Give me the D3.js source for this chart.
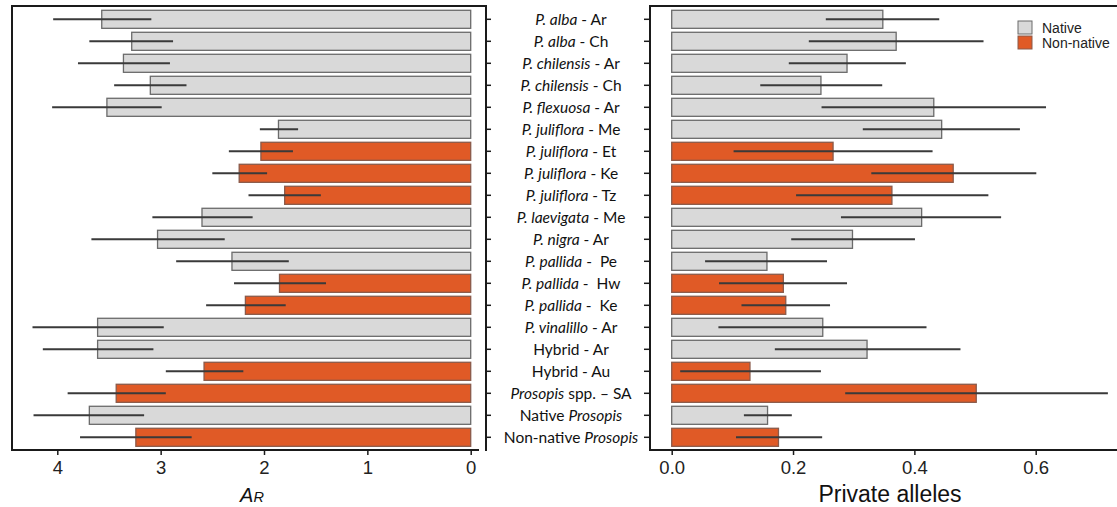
<!DOCTYPE html>
<html>
<head>
<meta charset="utf-8">
<script src="https://cdn.jsdelivr.net/npm/d3@7"></script>
<style>
body { margin: 0; background: #fff; }
svg { display: block; }
.tick text { font-family: "Liberation Sans", Arial, sans-serif; }
</style>
</head>
<body>
<svg class="chart" width="1117" height="507"></svg>
<script>
"use strict";
// row labels, each as [text, italic] pieces
var labels = [
	[["P. alba", 1], [" - Ar", 0]],
	[["P. alba", 1], [" - Ch", 0]],
	[["P. chilensis", 1], [" - Ar", 0]],
	[["P. chilensis", 1], [" - Ch", 0]],
	[["P. flexuosa", 1], [" - Ar", 0]],
	[["P. juliflora", 1], [" - Me", 0]],
	[["P. juliflora", 1], [" - Et", 0]],
	[["P. juliflora", 1], [" - Ke", 0]],
	[["P. juliflora", 1], [" - Tz", 0]],
	[["P. laevigata", 1], [" - Me", 0]],
	[["P. nigra", 1], [" - Ar", 0]],
	[["P. pallida", 1], [" -  Pe", 0]],
	[["P. pallida", 1], [" -  Hw", 0]],
	[["P. pallida", 1], [" -  Ke", 0]],
	[["P. vinalillo", 1], [" - Ar", 0]],
	[["Hybrid - Ar", 0]],
	[["Hybrid - Au", 0]],
	[["Prosopis", 1], [" spp. \u2013 SA", 0]],
	[["Native ", 0], ["Prosopis", 1]],
	[["Non-native ", 0], ["Prosopis", 1]]
];
var origin = ["Native","Native","Native","Native","Native","Native","Non-native","Non-native","Non-native","Native",
	"Native","Native","Non-native","Non-native","Native","Native","Non-native","Non-native","Native","Non-native"];

// allelic richness (A_R) with error range
var arMean = [3.57, 3.28, 3.36, 3.10, 3.52, 1.86, 2.03, 2.24, 1.80, 2.60, 3.03, 2.31, 1.85, 2.18, 3.61, 3.61, 2.58, 3.43, 3.69, 3.24];
var arLow  = [3.09, 2.88, 2.91, 2.75, 2.99, 1.67, 1.72, 1.97, 1.45, 2.11, 2.38, 1.76, 1.40, 1.79, 2.97, 3.07, 2.20, 2.95, 3.16, 2.70];
var arHigh = [4.04, 3.69, 3.80, 3.45, 4.05, 2.04, 2.34, 2.50, 2.15, 3.08, 3.67, 2.85, 2.29, 2.56, 4.24, 4.14, 2.95, 3.90, 4.23, 3.78];

// private alleles with error range
var paMean = [0.348, 0.370, 0.289, 0.246, 0.432, 0.445, 0.266, 0.464, 0.363, 0.412, 0.298, 0.157, 0.184, 0.188, 0.249, 0.322, 0.129, 0.502, 0.158, 0.176];
var paLow  = [0.254, 0.226, 0.193, 0.146, 0.247, 0.315, 0.102, 0.329, 0.205, 0.279, 0.197, 0.055, 0.078, 0.115, 0.077, 0.170, 0.014, 0.286, 0.119, 0.106];
var paHigh = [0.441, 0.514, 0.386, 0.347, 0.617, 0.574, 0.430, 0.601, 0.522, 0.543, 0.401, 0.256, 0.289, 0.261, 0.420, 0.476, 0.246, 0.719, 0.198, 0.248];

var arTicks = [0, 1, 2, 3, 4];
var paTicks = [0, 0.2, 0.4, 0.6];
var legendKeys = ["Native", "Non-native"];

var fillColor = {"Native": "#d9d9d9", "Non-native": "#e05a26"};
var strokeColor = {"Native": "#6b6b6b", "Non-native": "#8a5a4a"};

var rows = d3.range(labels.length);
var svg = d3.select(".chart");

var y = d3.scaleBand()
	.domain(rows)
	.range([8.3, 448.3])
	.paddingInner(0.18)
	.paddingOuter(0.09);

var xAR = d3.scaleLinear().domain([4, 0]).range([57.3, 470.7]);
var xPA = d3.scaleLinear().domain([0, 0.6]).range([671.7, 1035.7]);

// ---------- left panel ----------
var left = svg.append("g");
left.append("g").selectAll("rect")
	.data(rows)
	.enter().append("rect")
	.attr("x", function(i) { return xAR(arMean[i]); })
	.attr("y", function(i) { return y(i); })
	.attr("width", function(i) { return xAR(0) - xAR(arMean[i]); })
	.attr("height", y.bandwidth())
	.attr("fill", function(i) { return fillColor[origin[i]]; })
	.attr("stroke", function(i) { return strokeColor[origin[i]]; })
	.attr("stroke-width", 1.3);
left.append("g").selectAll("line")
	.data(rows)
	.enter().append("line")
	.attr("x1", function(i) { return xAR(arHigh[i]); })
	.attr("x2", function(i) { return xAR(arLow[i]); })
	.attr("y1", function(i) { return y(i) + y.bandwidth() / 2; })
	.attr("y2", function(i) { return y(i) + y.bandwidth() / 2; })
	.attr("stroke", "#3a3a3a")
	.attr("stroke-width", 2);

// frame
left.append("path")
	.attr("d", "M486,6 H12 V450 H479")
	.attr("fill", "none").attr("stroke", "#1a1a1a").attr("stroke-width", 2);
left.append("line")
	.attr("x1", 486).attr("x2", 486).attr("y1", 5).attr("y2", 451)
	.attr("stroke", "#1a1a1a").attr("stroke-width", 2);
// ticks on right side of the left panel
left.append("g").selectAll("line")
	.data(rows)
	.enter().append("line")
	.attr("x1", 486).attr("x2", 491)
	.attr("y1", function(i) { return y(i) + y.bandwidth() / 2; })
	.attr("y2", function(i) { return y(i) + y.bandwidth() / 2; })
	.attr("stroke", "#1a1a1a").attr("stroke-width", 1.5);

var axAR = left.append("g")
	.attr("transform", "translate(0,450)")
	.call(d3.axisBottom(xAR).tickValues(arTicks).tickFormat(d3.format("d")).tickSize(5).tickPadding(6));
axAR.select(".domain").remove();
axAR.selectAll(".tick line").attr("stroke", "#1a1a1a").attr("stroke-width", 1.5);
axAR.selectAll(".tick text").attr("font-size", 18.5).attr("fill", "#222");

var arTitle = left.append("text")
	.attr("x", 252).attr("y", 502)
	.attr("text-anchor", "middle")
	.attr("font-family", "Liberation Sans, Arial, sans-serif")
	.attr("font-style", "italic")
	.attr("font-size", 20)
	.attr("fill", "#111");
arTitle.append("tspan").text("A");
arTitle.append("tspan").attr("font-size", 14.5).text("R");

// ---------- centre labels ----------
var lab = svg.append("g").selectAll("text")
	.data(rows)
	.enter().append("text")
	.attr("x", 571)
	.attr("y", function(i) { return y(i) + y.bandwidth() / 2; })
	.attr("dy", "0.36em")
	.attr("text-anchor", "middle")
	.attr("font-family", "Lato, 'Open Sans', sans-serif")
	.attr("font-size", 15.5)
	.attr("fill", "#111")
	.style("white-space", "pre");
lab.selectAll("tspan")
	.data(function(i) { return labels[i]; })
	.enter().append("tspan")
	.attr("font-style", function(d) { return d[1] ? "italic" : "normal"; })
	.text(function(d) { return d[0]; });

// ---------- right panel ----------
var right = svg.append("g");
right.append("g").selectAll("rect")
	.data(rows)
	.enter().append("rect")
	.attr("x", xPA(0))
	.attr("y", function(i) { return y(i); })
	.attr("width", function(i) { return xPA(paMean[i]) - xPA(0); })
	.attr("height", y.bandwidth())
	.attr("fill", function(i) { return fillColor[origin[i]]; })
	.attr("stroke", function(i) { return strokeColor[origin[i]]; })
	.attr("stroke-width", 1.3);
right.append("g").selectAll("line")
	.data(rows)
	.enter().append("line")
	.attr("x1", function(i) { return xPA(paLow[i]); })
	.attr("x2", function(i) { return xPA(paHigh[i]); })
	.attr("y1", function(i) { return y(i) + y.bandwidth() / 2; })
	.attr("y2", function(i) { return y(i) + y.bandwidth() / 2; })
	.attr("stroke", "#3a3a3a")
	.attr("stroke-width", 2);

right.append("path")
	.attr("d", "M1117,6 H650 V450 H1117")
	.attr("fill", "none").attr("stroke", "#1a1a1a").attr("stroke-width", 2);
right.append("g").selectAll("line")
	.data(rows)
	.enter().append("line")
	.attr("x1", 644).attr("x2", 650)
	.attr("y1", function(i) { return y(i) + y.bandwidth() / 2; })
	.attr("y2", function(i) { return y(i) + y.bandwidth() / 2; })
	.attr("stroke", "#1a1a1a").attr("stroke-width", 1.5);

var axPA = right.append("g")
	.attr("transform", "translate(0,450)")
	.call(d3.axisBottom(xPA).tickValues(paTicks).tickFormat(d3.format(".1f")).tickSize(5).tickPadding(6));
axPA.select(".domain").remove();
axPA.selectAll(".tick line").attr("stroke", "#1a1a1a").attr("stroke-width", 1.5);
axPA.selectAll(".tick text").attr("font-size", 18.5).attr("fill", "#222");

right.append("text")
	.attr("x", 890).attr("y", 502)
	.attr("text-anchor", "middle")
	.attr("font-family", "Liberation Sans, Arial, sans-serif")
	.attr("font-size", 23)
	.attr("fill", "#111")
	.text("Private alleles");

// legend
var leg = right.append("g").selectAll("g")
	.data(legendKeys)
	.enter().append("g")
	.attr("transform", function(d, i) { return "translate(1018," + (21 + i * 15) + ")"; });
leg.append("rect")
	.attr("width", 14).attr("height", 13)
	.attr("fill", function(d) { return fillColor[d]; })
	.attr("stroke", function(d) { return strokeColor[d]; })
	.attr("stroke-width", 1);
leg.append("text")
	.attr("x", 24).attr("y", 7)
	.attr("dy", "0.36em")
	.attr("font-family", "Liberation Sans, Arial, sans-serif")
	.attr("font-size", 14)
	.attr("fill", "#222")
	.text(function(d) { return d; });
</script>
</body>
</html>
